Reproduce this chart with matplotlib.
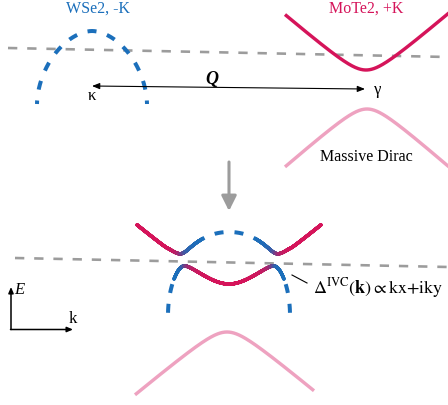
import numpy as np
import matplotlib
matplotlib.use("Agg")
import matplotlib.pyplot as plt
from matplotlib.collections import LineCollection

plt.rcParams['font.family'] = ['Liberation Serif', 'DejaVu Serif']
plt.rcParams['mathtext.fontset'] = 'stix'

# ---- colours ----
RED = np.array([0.835, 0.078, 0.353])
BLUE = np.array([0.106, 0.435, 0.733])
PINK = '#eea2c0'
GRAY = '#9c9c9c'

# ---- labels ----
label_wse2 = "WSe2, -K"
label_mote2 = "MoTe2, +K"
label_dirac = "Massive Dirac"
label_q = "Q"
label_kappa = "κ"
label_gamma = "γ"
label_gap = r"$\Delta^{\mathrm{IVC}}(\mathbf{k})\propto\mathrm{kx{+}iky}$"
label_E = "E"
label_k = "k"

# ---- band parameters (pixel units) ----
# top panel
top_dome = dict(xc=92, y_end=104, a=55, b=73, n=1.8)
top_cond = dict(xc=366, ymin=70, d=15, s=0.85, x0=285, x1=450)
top_val = dict(xc=367, ymax=109, d=15, s=0.87, x0=285, x1=450)
top_fermi = ([8, 448], [48, 57])
# bottom panel
bot_dome = dict(xc=229, y_end=315, a=61, b=83, n=2.1)
bot_cond = dict(ymin=284, d=20, s=0.83, kmax=92)
bot_val = dict(xc=227, ymax=332, d=15, s=0.83, x0=135, x1=314)
bot_fermi = ([15, 448], [258, 267])
gap_slope = 0.14
k_dash_upper = 27   # upper hybrid band dashed for |k| < this
k_dash_lower = 55   # lower hybrid band dashed for |k| > this
lower_colour_gamma = 3.0

fig = plt.figure(figsize=(4.48, 4.05), dpi=100)
ax = fig.add_axes([0, 0, 1, 1])
ax.set_xlim(0, 448)
ax.set_ylim(405, 0)
ax.axis('off')

PX = 72 / 100.0          # points per pixel
LW_B = 4.0 * PX          # blue dashed
LW_R = 3.4 * PX
LW_G = 2.6 * PX
ON_B, OFF_B = 9.0, 11.0  # blue dash pattern (px)
ON_G, OFF_G = 9.3, 9.9   # gray dash pattern (px)


def dash_style(on_px, off_px, lw_pt, offset_px=0.0):
    u = lw_pt / PX  # pixels per dash unit
    period = on_px + off_px
    return ((offset_px % period) / u, (on_px / u, off_px / u))


def arclen(x, y):
    return np.concatenate([[0], np.cumsum(np.hypot(np.diff(x), np.diff(y)))])


def hyper_up(k, ymin, d, s):
    return ymin + d - np.sqrt(d ** 2 + (s * k) ** 2)


def hyper_down(k, ymax, d, s):
    return ymax - d + np.sqrt(d ** 2 + (s * k) ** 2)


def dome_y(k, p):
    u = np.clip(np.abs(k) / p['a'], 0, 1)
    y = p['y_end'] - p['b'] * (1 - u ** p['n']) ** (1 / p['n'])
    ext = np.abs(k) > p['a']
    y = np.where(ext, p['y_end'] + 20 * (np.abs(k) - p['a']), y)
    return y


# ---------- top panel ----------
ax.plot(top_fermi[0], top_fermi[1], color=GRAY, lw=LW_G,
        ls=dash_style(ON_G, OFF_G, LW_G), solid_capstyle='butt')

t = np.linspace(np.pi, 0, 801)
ct, st = np.cos(t), np.sin(t)
p = top_dome
xd = p['xc'] + p['a'] * np.sign(ct) * np.abs(ct) ** (2 / p['n'])
yd = p['y_end'] - p['b'] * np.abs(st) ** (2 / p['n'])
s_apex = arclen(xd, yd)[400]
ax.plot(xd, yd, color=BLUE, lw=LW_B,
        ls=dash_style(ON_B, OFF_B, LW_B, ON_B / 2 - s_apex), dash_capstyle='butt')

x = np.linspace(top_cond['x0'], top_cond['x1'], 400)
ax.plot(x, hyper_up(x - top_cond['xc'], top_cond['ymin'], top_cond['d'], top_cond['s']),
        color=RED, lw=LW_R, solid_capstyle='butt')
x = np.linspace(top_val['x0'], top_val['x1'], 400)
ax.plot(x, hyper_down(x - top_val['xc'], top_val['ymax'], top_val['d'], top_val['s']),
        color=PINK, lw=LW_R, solid_capstyle='butt')

ax.text(97.5, 13, label_wse2, color=BLUE, fontsize=11.5, ha='center', va='baseline')
ax.text(366.5, 13, label_mote2, color=RED, fontsize=11.5, ha='center', va='baseline')
ax.text(366, 161, label_dirac, color='black', fontsize=11.5, ha='center', va='baseline')

ax.annotate('', xy=(92, 86), xytext=(365, 89),
            arrowprops=dict(arrowstyle='<|-|>,head_length=0.45,head_width=0.18',
                            color='black', lw=0.8, shrinkA=0, shrinkB=0))
ax.text(212, 84, label_q, fontsize=13, fontweight='bold', fontstyle='italic',
        ha='center', va='baseline')
ax.text(92, 100, label_kappa, fontsize=12, ha='center', va='baseline')
ax.text(378, 94, label_gamma, fontsize=12, ha='center', va='baseline')

# gray down arrow
ax.annotate('', xy=(229, 211), xytext=(229, 162),
            arrowprops=dict(arrowstyle='-|>,head_length=0.9,head_width=0.45',
                            color=GRAY, lw=2.2, shrinkA=0, shrinkB=0))

# ---------- bottom panel ----------
ax.plot(bot_fermi[0], bot_fermi[1], color=GRAY, lw=LW_G,
        ls=dash_style(ON_G, OFF_G, LW_G), solid_capstyle='butt')

xc = bot_dome['xc']
k = np.linspace(-bot_cond['kmax'], bot_cond['kmax'], 3001)
yc = hyper_up(k, bot_cond['ymin'], bot_cond['d'], bot_cond['s'])
yv = dome_y(k, bot_dome)
mean = (yc + yv) / 2
R = np.sqrt(((yc - yv) / 2) ** 2 + (gap_slope * k) ** 2)
y_up = mean - R
y_lo = mean + R
w_up = 0.5 * (1 + (yv - yc) / (2 * R))   # conduction (red) weight, upper band
w_lo = (1 - w_up) ** lower_colour_gamma


def grad_line(kk, yy, ww):
    pts = np.column_stack([kk + xc, yy])
    segs = np.stack([pts[:-1], pts[1:]], axis=1)
    wm = (ww[:-1] + ww[1:]) / 2
    cols = wm[:, None] * RED + (1 - wm[:, None]) * BLUE
    lc = LineCollection(segs, colors=cols, linewidths=LW_R, capstyle='round')
    ax.add_collection(lc)


# upper hybrid band
m = k <= -k_dash_upper
grad_line(k[m], y_up[m], w_up[m])
m = k >= k_dash_upper
grad_line(k[m], y_up[m], w_up[m])
m = np.abs(k) <= k_dash_upper
xu, yu = k[m] + xc, y_up[m]
s_mid = arclen(xu, yu)[len(xu) // 2]
ax.plot(xu, yu, color=BLUE, lw=LW_B,
        ls=dash_style(ON_B, OFF_B, LW_B, ON_B + OFF_B / 2 - s_mid), dash_capstyle='butt')

# lower hybrid band
inside = np.abs(k) <= bot_dome['a']
m = inside & (np.abs(k) <= k_dash_lower)
grad_line(k[m], y_lo[m], w_lo[m])
m = inside & (k <= -k_dash_lower)
ax.plot(k[m] + xc, y_lo[m], color=BLUE, lw=LW_B,
        ls=dash_style(ON_B, OFF_B, LW_B, 0.0), dash_capstyle='butt')
m = inside & (k >= k_dash_lower)
ax.plot(k[m][::-1] + xc, y_lo[m][::-1], color=BLUE, lw=LW_B,
        ls=dash_style(ON_B, OFF_B, LW_B, 0.0), dash_capstyle='butt')

# lower massive Dirac valence band
x = np.linspace(bot_val['x0'], bot_val['x1'], 400)
ax.plot(x, hyper_down(x - bot_val['xc'], bot_val['ymax'], bot_val['d'], bot_val['s']),
        color=PINK, lw=LW_R, solid_capstyle='butt')

# annotation for the gap
ax.plot([292, 307], [275, 283], color='black', lw=0.8)
ax.text(313, 293, label_gap, fontsize=13, ha='left', va='baseline')

# E-k axes
ax.annotate('', xy=(11, 287), xytext=(11, 329.5),
            arrowprops=dict(arrowstyle='-|>,head_length=0.35,head_width=0.15',
                            color='black', lw=1.1, shrinkA=0, shrinkB=0))
ax.annotate('', xy=(73, 329.5), xytext=(10.5, 329.5),
            arrowprops=dict(arrowstyle='-|>,head_length=0.35,head_width=0.15',
                            color='black', lw=1.1, shrinkA=0, shrinkB=0))
ax.text(19, 294, label_E, fontsize=12, fontstyle='italic', ha='center', va='baseline')
ax.text(72.5, 323, label_k, fontsize=12, ha='center', va='baseline')

fig.savefig('out.png', dpi=100)
